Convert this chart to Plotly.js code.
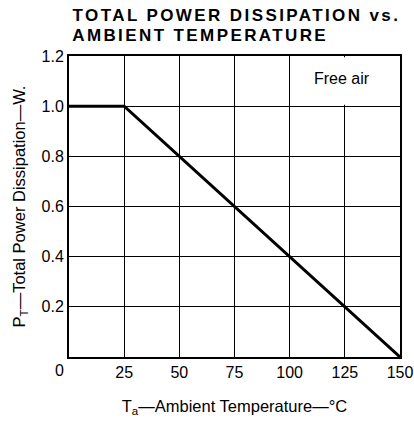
<!DOCTYPE html>
<html>
<head>
<meta charset="utf-8">
<script src="https://cdn.plot.ly/plotly-3.0.1.min.js"></script>
<style>
  html, body { margin: 0; padding: 0; background: #fff; }
  #chart { width: 414px; height: 421px; }
  g.annotation[data-index="0"] text,
  g.annotation[data-index="1"] text { letter-spacing: 2.4px; }
</style>
</head>
<body>
<div id="chart"></div>
<script>
// Data
const ambientTemp = [0, 25, 150];          // Ta, °C
const powerDissipation = [1.0, 1.0, 0.0];  // PT, W

const xTickVals = [25, 50, 75, 100, 125, 150];
const xTickText = ['25', '50', '75', '100', '125', '150'];
const yTickVals = [0.2, 0.4, 0.6, 0.8, 1.0, 1.2];
const yTickText = ['0.2', '0.4', '0.6', '0.8', '1.0', '1.2'];

const titleLines = ['TOTAL POWER DISSIPATION vs.', 'AMBIENT TEMPERATURE'];
const xTitle = 'T<sub>a</sub>—Ambient Temperature—°C';
const yTitle = 'P<sub>T</sub>—Total Power Dissipation—W.';
const noteText = 'Free air';
const cornerLabel = '0';

const trace = {
  x: ambientTemp,
  y: powerDissipation,
  type: 'scatter',
  mode: 'lines',
  line: { color: '#000', width: 3 },
  hoverinfo: 'skip',
  showlegend: false
};

const titleFont = { family: 'Liberation Sans, Arial, sans-serif', size: 17, color: '#000', weight: 'bold' };

const layout = {
  width: 414,
  height: 421,
  margin: { l: 69, r: 14, t: 56, b: 64 },
  paper_bgcolor: '#fff',
  plot_bgcolor: '#fff',
  font: { family: 'Liberation Sans, Arial, sans-serif', color: '#000', size: 16 },
  xaxis: {
    range: [0, 150],
    tickvals: xTickVals,
    ticktext: xTickText,
    showgrid: true,
    gridcolor: '#000',
    gridwidth: 1.2,
    showline: true,
    linecolor: '#000',
    linewidth: 2,
    mirror: true,
    ticks: '',
    zeroline: false,
    ticklabelstandoff: 0,
    tickfont: { size: 16 },
    title: { text: xTitle, font: { size: 16.5 }, standoff: 20 },
    fixedrange: true
  },
  yaxis: {
    range: [0, 1.2],
    tickvals: yTickVals,
    ticktext: yTickText,
    showgrid: true,
    gridcolor: '#000',
    gridwidth: 1.2,
    showline: true,
    linecolor: '#000',
    linewidth: 2,
    mirror: true,
    ticks: '',
    zeroline: false,
    ticklabelstandoff: 0,
    tickfont: { size: 16 },
    title: { text: yTitle, font: { size: 16.5 }, standoff: 12 },
    fixedrange: true
  },
  shapes: [
    {
      type: 'rect', xref: 'x', yref: 'y',
      x0: 101, x1: 149.5, y0: 1.006, y1: 1.195,
      fillcolor: '#fff', line: { width: 0 }, layer: 'between'
    }
  ],
  annotations: [
    {
      text: titleLines[0], xref: 'paper', yref: 'paper',
      x: 0, y: 1, xanchor: 'left', yanchor: 'middle',
      xshift: 34, yshift: 41,
      showarrow: false, font: titleFont
    },
    {
      text: titleLines[1], xref: 'paper', yref: 'paper',
      x: 0, y: 1, xanchor: 'left', yanchor: 'middle',
      xshift: 24, yshift: 21,
      showarrow: false, font: titleFont
    },
    {
      text: noteText, xref: 'paper', yref: 'paper',
      x: 0.825, y: 0.924, xanchor: 'center', yanchor: 'middle',
      showarrow: false, font: { size: 16 }
    },
    {
      text: cornerLabel, xref: 'paper', yref: 'paper',
      x: 0, y: 0, xanchor: 'right', yanchor: 'top',
      xshift: -3, yshift: -3,
      showarrow: false, font: { size: 16 }
    }
  ]
};

Plotly.newPlot('chart', [trace], layout, { displayModeBar: false, staticPlot: true });
</script>
</body>
</html>
